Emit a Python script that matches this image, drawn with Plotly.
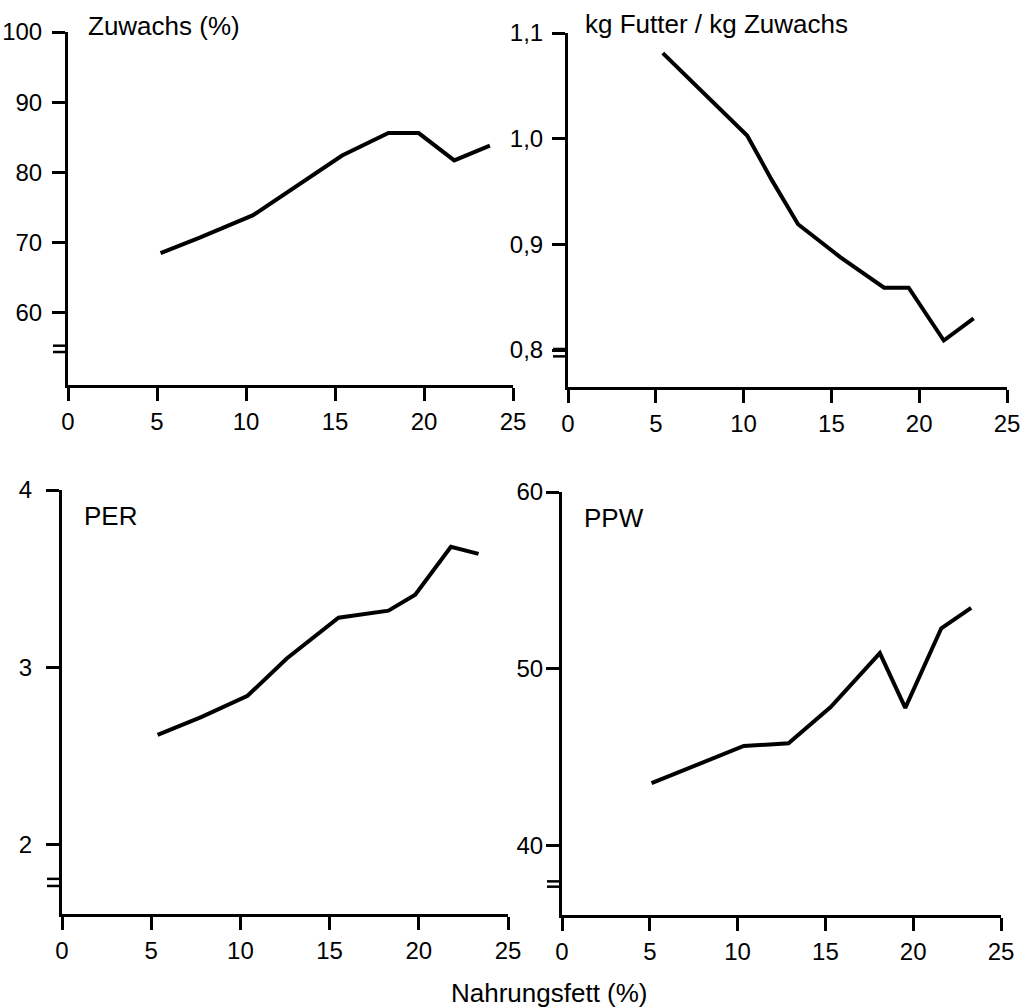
import plotly.graph_objects as go

# ---- data ----
x_zuwachs = [5.2, 7.4, 10.4, 12.6, 15.4, 18.0, 19.7, 21.7, 23.7]
y_zuwachs = [68.5, 70.7, 73.9, 77.6, 82.4, 85.6, 85.6, 81.7, 83.8]

x_futter = [5.4, 10.2, 11.6, 13.1, 15.5, 18.0, 19.4, 21.4, 23.1]
y_futter = [1.081, 1.003, 0.961, 0.919, 0.888, 0.859, 0.859, 0.809, 0.830]

x_per = [5.36, 7.8, 10.4, 12.6, 15.5, 18.3, 19.8, 21.8, 23.35]
y_per = [2.62, 2.72, 2.84, 3.05, 3.28, 3.32, 3.41, 3.68, 3.64]

x_ppw = [5.1, 10.35, 12.9, 15.3, 18.1, 19.55, 21.6, 23.3]
y_ppw = [43.55, 45.65, 45.8, 47.85, 50.9, 47.8, 52.3, 53.45]

x_ticks = [0, 5, 10, 15, 20, 25]
x_ticktext = ["0", "5", "10", "15", "20", "25"]

zuwachs_ticks = [60, 70, 80, 90, 100]
zuwachs_ticktext = ["60", "70", "80", "90", "100"]
futter_ticks = [0.8, 0.9, 1.0, 1.1]
futter_ticktext = ["0,8", "0,9", "1,0", "1,1"]
per_ticks = [2, 3, 4]
per_ticktext = ["2", "3", "4"]
ppw_ticks = [40, 50, 60]
ppw_ticktext = ["40", "50", "60"]

titles = ["Zuwachs (%)", "kg Futter / kg Zuwachs", "PER", "PPW"]
x_title = "Nahrungsfett (%)"

# ---- figure ----
W, H = 1027, 1008
FONT = "Liberation Sans, Arial, Helvetica, sans-serif"
FS_TICK = 24
FS_TITLE = 26

fig = go.Figure()
series = [(x_zuwachs, y_zuwachs), (x_futter, y_futter), (x_per, y_per), (x_ppw, y_ppw)]
for i, (xs, ys) in enumerate(series):
    sfx = "" if i == 0 else str(i + 1)
    fig.add_trace(go.Scatter(x=xs, y=ys, mode="lines", xaxis="x" + sfx, yaxis="y" + sfx,
                             line=dict(color="black", width=4), showlegend=False,
                             hoverinfo="skip"))

# pixel geometry of each panel: (left, right, top, bottom)
panels = [(68, 513, 32, 385), (568, 1007, 33, 387), (62, 508, 490, 914), (562, 1001, 492, 915)]
yranges = [[49.7, 100], [0.765, 1.1], [1.61, 4], [36.1, 60]]
yticks = [(zuwachs_ticks, zuwachs_ticktext), (futter_ticks, futter_ticktext),
          (per_ticks, per_ticktext), (ppw_ticks, ppw_ticktext)]
ystandoff = [5, 4, 9, -2]

axis_common = dict(showgrid=False, zeroline=False, showline=True, linecolor="black",
                   linewidth=3, ticks="outside", tickcolor="black", tickwidth=2.5,
                   ticklen=13, automargin=False,
                   tickfont=dict(family=FONT, size=FS_TICK, color="black"))

layout = dict(width=W, height=H, margin=dict(l=0, r=0, t=0, b=0, autoexpand=False),
              template="none",
              paper_bgcolor="white", plot_bgcolor="white", showlegend=False)
for i, (l, r, t, b) in enumerate(panels):
    sfx = "" if i == 0 else str(i + 1)
    layout["xaxis" + sfx] = dict(axis_common, domain=[l / W, r / W], range=[0, 25],
                                 anchor="y" + sfx, tickvals=x_ticks, ticktext=x_ticktext)
    layout["yaxis" + sfx] = dict(axis_common, domain=[1 - b / H, 1 - t / H],
                                 range=yranges[i], anchor="x" + sfx,
                                 ticklabelstandoff=ystandoff[i],
                                 tickvals=yticks[i][0], ticktext=yticks[i][1])
fig.update_layout(**layout)

# axis-break marks (double short lines on the y axes)
breaks = [(54.4, 55.3), (0.801, 0.794), (1.808, 1.768), (38.0, 37.7)]
for i, (b1, b2) in enumerate(breaks):
    sfx = "" if i == 0 else str(i + 1)
    l, r, t, b = panels[i]
    w = r - l
    for yb in (b1, b2):
        fig.add_shape(type="line", xref="x" + sfx + " domain", yref="y" + sfx,
                      x0=-15 / w, x1=0, y0=yb, y1=yb,
                      line=dict(color="black", width=2.5))

# panel titles
title_pos = [(86, 26), (583, 24), (82, 516), (582, 518)]
for txt, (px, py) in zip(titles, title_pos):
    fig.add_annotation(text=txt, xref="paper", yref="paper", x=px / W, y=1 - py / H,
                       xanchor="left", yanchor="middle", showarrow=False,
                       font=dict(family=FONT, size=FS_TITLE, color="black"))

fig.add_annotation(text=x_title, xref="paper", yref="paper", x=549 / W, y=1 - 993 / H,
                   xanchor="center", yanchor="middle", showarrow=False,
                   font=dict(family=FONT, size=FS_TITLE, color="black"))

fig.write_html("out.html", config={"displayModeBar": False},
               post_script="document.body.style.margin='0';")
